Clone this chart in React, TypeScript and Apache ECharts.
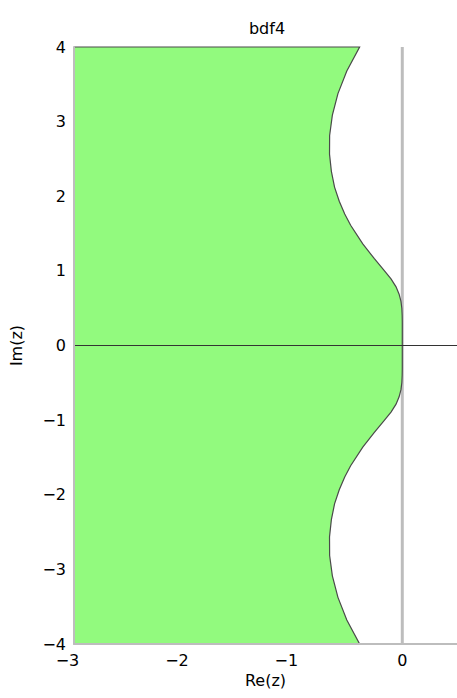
import React, { useEffect, useRef } from "react";
import * as echarts from "echarts";

// Boundary of the BDF4 stability region (Re, Im), top to bottom
const boundaryRe = [
  -0.390, -0.507, -0.588, -0.639, -0.664, -0.665, -0.648, -0.619, -0.576, -0.526,
  -0.472, -0.361, -0.257, -0.170, -0.103, -0.057, -0.029, -0.012, -0.004, -0.001,
  0.000, 0.000, 0.000, 0.000, 0.000, 0.000, 0.000, -0.001, -0.004, -0.012,
  -0.029, -0.057, -0.103, -0.170, -0.257, -0.361, -0.472, -0.526, -0.576, -0.619,
  -0.648, -0.665, -0.664, -0.639, -0.588, -0.507, -0.390,
];
const boundaryIm = [
  4.000, 3.679, 3.375, 3.087, 2.815, 2.564, 2.334, 2.123, 1.933, 1.763,
  1.612, 1.361, 1.167, 1.015, 0.892, 0.786, 0.688, 0.592, 0.496, 0.398,
  0.300, 0.200, 0.100, 0.000, -0.100, -0.200, -0.300, -0.398, -0.496, -0.592,
  -0.688, -0.786, -0.892, -1.015, -1.167, -1.361, -1.612, -1.763, -1.933, -2.123,
  -2.334, -2.564, -2.815, -3.087, -3.375, -3.679, -4.000,
];
const regionLeft = -3;
const xMin = -3;
const xMax = 0.5;
const yMin = -4;
const yMax = 4;
const imagAxisLine = [[0, -4], [0, 4]];
const realAxisLine = [[-3, 0], [0.5, 0]];

const FONT = "DejaVu Sans";
const GREEN = "#92fa7e";
const minus = (v: number) => (v < 0 ? "\u2212" + Math.abs(v) : String(v));

export default function App() {
  const ref = useRef<HTMLDivElement>(null);
  useEffect(() => {
    if (!ref.current) return;
    const chart = echarts.init(ref.current, null, { renderer: "svg" });
    const regionPts: number[][] = [[regionLeft, yMax]];
    boundaryRe.forEach((re, i) => regionPts.push([re, boundaryIm[i]]));
    regionPts.push([regionLeft, yMin]);

    chart.setOption({
      animation: false,
      backgroundColor: "#ffffff",
      grid: { left: 74, top: 47, right: -4, bottom: 54, containLabel: false },
      graphic: [
        {
          type: "text",
          x: 267,
          y: 28,
          style: {
            text: "bdf4",
            font: `16px "${FONT}"`,
            fill: "#000",
            textAlign: "center",
            textVerticalAlign: "middle",
          },
        },
      ],
      xAxis: {
        type: "value",
        min: xMin,
        max: xMax,
        interval: 1,
        z: 5,
        name: "Re(z)",
        nameLocation: "middle",
        nameGap: 28,
        nameTextStyle: { fontFamily: FONT, fontSize: 16, color: "#000" },
        axisLine: { show: true, onZero: false, lineStyle: { color: "#bdbdbd", width: 2 } },
        axisTick: { show: false },
        splitLine: { show: false },
        axisLabel: {
          margin: 8,
          showMaxLabel: false,
          fontFamily: FONT,
          fontSize: 16,
          color: "#000",
          formatter: (v: number) => {
            if (Math.abs(v - Math.round(v)) > 1e-9) return "";
            return v < 0 ? `{n|${minus(v)}}` : `{p|${v}}`;
          },
          rich: {
            n: { fontFamily: FONT, fontSize: 16, color: "#000", padding: [0, 13, 0, 0] },
            p: { fontFamily: FONT, fontSize: 16, color: "#000" },
          },
        },
      },
      yAxis: {
        type: "value",
        min: yMin,
        max: yMax,
        interval: 1,
        z: 5,
        name: "Im(z)",
        nameLocation: "middle",
        nameRotate: 90,
        nameGap: 50,
        nameTextStyle: { fontFamily: FONT, fontSize: 16, color: "#000" },
        axisLine: { show: true, onZero: false, lineStyle: { color: "#bdbdbd", width: 2 } },
        axisTick: { show: false },
        splitLine: { show: false },
        axisLabel: {
          margin: 8,
          fontFamily: FONT,
          fontSize: 16,
          color: "#000",
          formatter: (v: number) => minus(v),
        },
      },
      series: [
        {
          type: "line",
          data: imagAxisLine,
          symbol: "none",
          z: 1,
          lineStyle: { color: "#bdbdbd", width: 3 },
        },
        {
          type: "custom",
          z: 2,
          data: [[0, 0]],
          renderItem: (_params: any, api: any) => {
            const pts = regionPts.map((p) => api.coord(p));
            return {
              type: "group",
              children: [
                { type: "polygon", shape: { points: pts }, style: { fill: GREEN, stroke: "none" } },
                {
                  type: "polyline",
                  shape: { points: pts },
                  style: { fill: "none", stroke: "#4a4a4a", lineWidth: 1.2 },
                },
              ],
            };
          },
        },
        {
          type: "line",
          data: realAxisLine,
          symbol: "none",
          z: 3,
          lineStyle: { color: "#333333", width: 1 },
        },
      ],
    });
    return () => chart.dispose();
  }, []);
  return (
    <div
      ref={ref}
      style={{ position: "fixed", left: 0, top: 0, width: 457, height: 698, background: "#fff" }}
    />
  );
}
